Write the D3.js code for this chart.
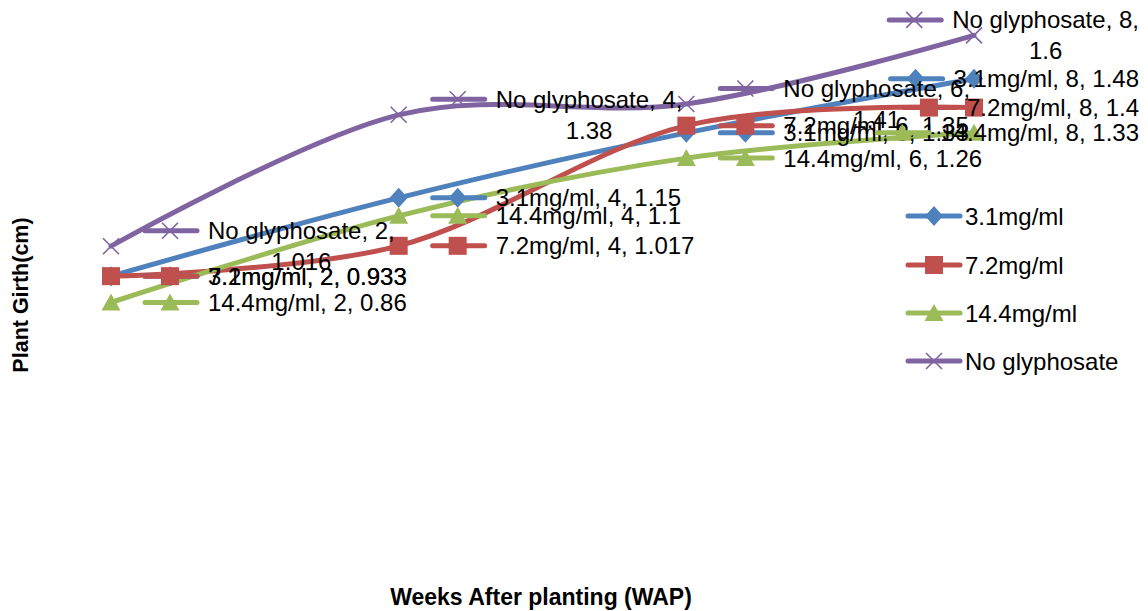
<!DOCTYPE html>
<html>
<head>
<meta charset="utf-8">
<script src="https://cdn.jsdelivr.net/npm/d3@7"></script>
<style>
  html, body { margin: 0; padding: 0; background: #fff; }
  svg { display: block; }
</style>
</head>
<body>
<svg id="chart" width="1148" height="611"></svg>
<script>
// ---- data ----
const weeks = [2, 4, 6, 8];
const seriesNames = ["3.1mg/ml", "7.2mg/ml", "14.4mg/ml", "No glyphosate"];
const girth31 = [0.933, 1.15, 1.33, 1.48];
const girth72 = [0.933, 1.017, 1.35, 1.4];
const girth144 = [0.86, 1.1, 1.26, 1.33];
const girthNone = [1.016, 1.38, 1.41, 1.6];
const xTitle = "Weeks After planting (WAP)";
const yTitle = "Plant Girth(cm)";

const colors = ["#4F81BD", "#C0504D", "#9BBB59", "#8064A2"];
const markers = ["diamond", "square", "triangle", "x"];
const seriesValues = [girth31, girth72, girth144, girthNone];

const series = seriesNames.map((name, i) => ({
  name, color: colors[i], marker: markers[i],
  points: weeks.map((w, j) => ({ week: w, value: seriesValues[i][j] }))
}));

const svg = d3.select("#chart");
const FONT = "'Liberation Sans', Arial, sans-serif";

const x = d3.scalePoint().domain(weeks).range([111, 974]);
const y = d3.scaleLinear().domain([0.86, 1.6]).range([302.5, 35.4]);

function drawMarker(g, type, cx, cy, color) {
  if (type === "diamond") {
    g.append("path").attr("d", `M${cx},${cy-10}L${cx+9},${cy}L${cx},${cy+10}L${cx-9},${cy}Z`).attr("fill", color);
  } else if (type === "square") {
    g.append("rect").attr("x", cx-9).attr("y", cy-9).attr("width", 18).attr("height", 18).attr("fill", color);
  } else if (type === "triangle") {
    g.append("path").attr("d", `M${cx},${cy-9}L${cx+9.5},${cy+8}L${cx-9.5},${cy+8}Z`).attr("fill", color);
  } else {
    g.append("path").attr("d", `M${cx-8},${cy-8}L${cx+8},${cy+8}M${cx-8},${cy+8}L${cx+8},${cy-8}`)
      .attr("stroke", color).attr("stroke-width", 1.6).attr("fill", "none");
  }
}

const line = d3.line().x(d => x(d.week)).y(d => y(d.value)).curve(d3.curveCardinal.tension(0));

// lines & markers
series.forEach(s => {
  const g = svg.append("g");
  g.append("path").datum(s.points).attr("d", line)
    .attr("fill", "none").attr("stroke", s.color).attr("stroke-width", 5)
    .attr("stroke-linecap", "round").attr("stroke-linejoin", "round");
  s.points.forEach(p => drawMarker(g, s.marker, x(p.week), y(p.value), s.color));
});

// data labels with legend keys
const measurer = svg.append("text").attr("font-family", FONT).attr("font-size", 24).attr("visibility", "hidden");
function tw(str) { measurer.text(str); return measurer.node().getComputedTextLength(); }

const chartRight = 1139;
series.forEach(s => {
  const g = svg.append("g");
  s.points.forEach(p => {
    const px = x(p.week), py = y(p.value);
    const full = `${s.name}, ${p.week}, ${p.value}`;
    let lines = [full];
    if (tw(full) > 210) lines = [`${s.name}, ${p.week},`, `${p.value}`];
    const maxW = d3.max(lines, tw);
    const blockW = 65 + maxW;
    const left = Math.min(px + 32, chartRight - blockW);
    const lh = 31;
    const top = py - (lines.length - 1) * lh / 2;
    // key
    g.append("line").attr("x1", left + 2).attr("x2", left + 54).attr("y1", top).attr("y2", top)
      .attr("stroke", s.color).attr("stroke-width", 5).attr("stroke-linecap", "round");
    drawMarker(g, s.marker, left + 27, top, s.color);
    lines.forEach((t, k) => {
      const txt = g.append("text").attr("font-family", FONT).attr("font-size", 24).attr("fill", "#000")
        .attr("dominant-baseline", "central").attr("y", top + k * lh).text(t);
      if (lines.length > 1) txt.attr("x", left + 65 + maxW / 2).attr("text-anchor", "middle");
      else txt.attr("x", left + 65);
    });
  });
});

// legend
const legY = [216, 265, 313, 361];
series.forEach((s, i) => {
  const g = svg.append("g");
  g.append("line").attr("x1", 908).attr("x2", 960).attr("y1", legY[i]).attr("y2", legY[i])
    .attr("stroke", s.color).attr("stroke-width", 5).attr("stroke-linecap", "round");
  drawMarker(g, s.marker, 934, legY[i], s.color);
  g.append("text").attr("x", 965).attr("y", legY[i]).attr("dominant-baseline", "central")
    .attr("font-family", FONT).attr("font-size", 24).attr("fill", "#000").text(s.name);
});

// axis titles
svg.append("text").attr("x", 541).attr("y", 597).attr("text-anchor", "middle").attr("dominant-baseline", "central")
  .attr("font-family", FONT).attr("font-weight", "bold").attr("font-size", 23).text(xTitle);
svg.append("text").attr("transform", "translate(21,295) rotate(-90)").attr("text-anchor", "middle")
  .attr("dominant-baseline", "central")
  .attr("font-family", FONT).attr("font-weight", "bold").attr("font-size", 21.5).text(yTitle);
</script>
</body>
</html>
